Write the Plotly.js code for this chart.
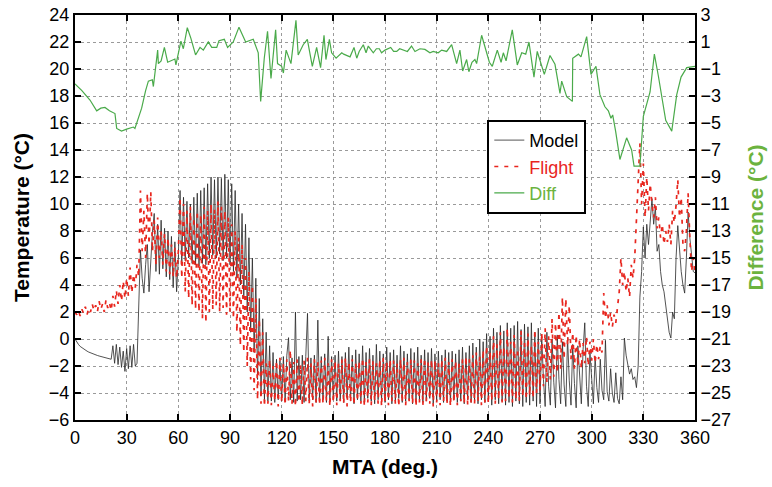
<!DOCTYPE html>
<html>
<head>
<meta charset="utf-8">
<script src="https://cdn.plot.ly/plotly-3.0.1.min.js"></script>
<style>html,body{margin:0;padding:0;background:#fff;}#chart{width:772px;height:487px;}</style>
</head>
<body>
<div id="chart"></div>
<script>
// Model temperature (°C), sampled every 1 deg of MTA from 0 to 360
const modelTemp = [
  0,-0.25,-0.4,-0.55,-0.65,-0.75,-0.83,-0.9,-0.97,-1.03,
  -1.08,-1.13,-1.18,-1.22,-1.26,-1.3,-1.34,-1.38,-1.42,-1.45,
  -1.48,-1.5,-0.5,-1.8,-0.4,-1.9,-0.6,-2.1,-0.9,-2.4,
  -0.7,-2.2,-0.5,-2.1,-0.4,-2.0,-1.8,2.1,6.6,4.5,
  3.4,5.5,7.0,3.5,6.0,8.0,9.3,5.0,8.5,4.8,
  8.8,5.2,8.2,4.6,8.0,4.4,7.6,3.8,7.2,3.5,
  6.0,11.0,5.5,10.5,5.8,10.2,6.0,10.0,5.6,10.5,
  5.5,10.8,5.4,11.0,5.6,11.2,5.5,11.5,6.0,12.0,
  6.2,11.8,6.0,12.0,6.3,11.9,5.8,12.2,6.0,11.8,
  5.5,11.5,5.0,11.0,4.5,10.0,4.0,9.3,3.0,8.5,
  2.0,7.5,0.5,6.0,-1.0,4.5,-3.0,3.0,-4.2,1.5,
  -4.5,0.5,-4.6,-0.5,-4.6,-1.0,-4.7,-1.5,-4.5,-1.6,
  -4.6,-1.3,-4.6,-1.2,0.1,-4.5,-1.4,-4.7,2.0,-4.6,
  -1.3,-4.5,-1.2,-4.7,-1.3,1.9,-4.6,-1.4,-4.5,-1.2,
  -4.7,1.4,-4.6,-1.3,-4.5,-1.1,-4.7,0.2,-4.6,-1.3,
  -4.5,-1.2,-4.6,-0.9,-4.5,-1.3,-4.7,-1.0,-4.4,-0.6,
  -4.6,-1.2,-4.8,-0.8,-4.5,-1.1,-4.6,-0.5,-4.7,-1.0,
  -4.4,-0.7,-4.6,-1.2,-4.8,-0.4,-4.5,-0.9,-4.6,-1.1,
  -4.7,-0.6,-4.5,-1.0,-4.8,-0.8,-4.6,-1.2,-4.4,-0.5,
  -4.7,-0.9,-4.6,-1.1,-4.5,-0.7,-4.8,-1.0,-4.6,-0.6,
  -4.5,-1.2,-4.7,-0.8,-4.6,-1.0,-4.4,-0.7,-4.8,-1.1,
  -4.6,-0.9,-4.5,-1.2,-4.7,-0.8,-4.6,-1.0,-4.8,-0.9,
  -4.5,-1.1,-4.7,-0.8,-4.6,-0.6,-4.8,-1.0,-4.5,-0.5,
  -4.7,-0.3,-4.6,-0.6,-4.8,0.0,-4.5,-0.2,-4.7,0.4,
  -4.6,0.2,-4.9,0.8,-4.5,0.5,-4.8,1.0,-4.6,0.6,
  -4.9,1.2,-4.7,0.8,-5.0,1.0,-4.6,1.3,-4.8,0.7,
  -5.0,1.1,-4.7,0.9,-4.9,1.2,-4.6,0.5,-5.0,0.8,
  -4.8,0.2,-3.0,-5.0,0.5,-3.5,-4.9,0.0,-3.2,-5.1,
  0.3,-3.0,-4.8,-0.2,-3.4,-5.0,0.1,-3.1,-4.9,-0.4,
  -3.3,-5.1,-0.5,-3.0,-4.8,-0.8,1.2,-3.5,-5.0,-1.0,
  -3.2,-4.8,-1.3,-3.6,-4.7,-1.5,-3.8,-4.5,-0.1,-3.9,
  -4.6,-2.2,-4.0,-4.7,-2.5,-4.4,-4.8,-2.8,-4.5,0.07,
  -1.2,-1.8,-2.6,-2.2,-3.0,-2.8,-3.6,-2.0,3.1,5.0,
  8.3,6.0,8.5,7.0,9.0,10.4,8.5,9.8,6.5,7.0,
  5.0,4.0,3.5,2.5,1.5,0.5,0.07,2.0,1.5,6.0,
  8.4,6.5,5.0,4.0,3.4,6.0,9.4,7.5,6.0,5.0,
  4.9
];

// Flight temperature (°C), sampled every 1 deg of MTA from 0 to 360
const flightTemp = [
  2.0,1.8,2.1,1.7,2.2,1.9,2.4,1.8,2.3,2.0,
  2.6,2.1,2.5,2.0,2.8,2.2,2.6,2.0,2.9,2.3,
  2.7,2.1,3.2,2.4,3.6,2.6,4.0,2.8,4.3,3.0,
  4.5,3.2,5.3,3.4,4.8,3.8,5.5,4.6,11.0,6.5,
  9.5,6.0,10.8,7.0,10.9,6.5,8.8,5.5,9.0,6.0,
  8.0,5.5,7.8,5.0,7.5,4.8,7.0,4.6,6.8,4.5,
  6.5,10.5,4.5,10.0,3.5,9.5,3.0,9.8,2.5,9.0,
  2.2,9.5,2.0,9.2,1.5,9.8,1.2,9.5,2.0,10.0,
  2.2,9.6,2.5,10.2,2.0,9.8,2.3,9.5,1.8,9.0,
  2.0,8.5,1.5,8.0,0.5,7.5,-0.5,7.0,-1.0,6.0,
  -2.0,5.0,-3.0,4.0,-3.8,3.0,-4.5,1.5,-4.8,0.5,
  -5.0,-1.8,-4.8,-1.5,-4.9,-2.0,-4.6,-1.6,-5.0,-1.4,
  -4.7,-1.8,-4.9,-1.5,-4.6,-0.8,-4.8,-1.7,-5.0,-1.5,
  -4.7,-1.9,-4.9,-1.6,-4.6,-1.4,-4.8,-1.8,-5.0,-1.5,
  -4.7,-1.7,-4.9,-1.6,-4.8,-1.4,-4.6,-1.8,-5.0,-1.5,
  -4.7,-1.6,-4.9,-1.8,-4.6,-1.5,-4.8,-1.4,-5.0,-1.7,
  -4.7,-1.5,-4.9,-1.8,-4.6,-1.6,-4.8,-1.4,-5.0,-1.7,
  -4.7,-1.5,-4.9,-1.6,-4.6,-1.8,-4.8,-1.5,-5.0,-1.4,
  -4.7,-1.7,-4.9,-1.5,-4.6,-1.6,-4.8,-1.8,-5.0,-1.5,
  -4.7,-1.4,-4.9,-1.7,-4.6,-1.5,-4.8,-1.6,-5.0,-1.8,
  -4.7,-1.5,-4.9,-1.4,-4.6,-1.7,-4.8,-1.5,-5.0,-1.6,
  -4.7,-1.8,-4.9,-1.5,-4.6,-1.4,-4.8,-1.7,-5.0,-1.5,
  -4.7,-1.6,-4.9,-1.8,-4.6,-1.5,-4.8,-1.3,-4.9,-1.5,
  -4.7,-1.2,-4.8,-1.0,-4.6,-1.3,-4.9,-0.8,-4.7,-0.5,
  -4.8,-0.9,-4.6,0.2,-4.8,-0.4,-4.5,0.5,-4.7,-0.6,
  -4.6,0.8,-4.4,-0.2,-4.7,0.3,-4.5,-0.7,-4.6,0.6,
  -4.3,-0.3,-4.5,0.4,-4.2,-0.5,-4.4,0.7,-4.0,-0.2,
  -3.8,0.5,-3.5,0.8,-3.2,0.2,-3.0,1.5,-2.8,1.2,
  -2.5,2.0,-2.2,3.1,-1.5,3.0,-0.5,2.5,-1.5,0.5,
  -2.2,0.3,-2.0,0.0,-2.2,-0.3,-1.8,0.2,-2.0,-0.2,
  -1.6,0.0,-1.8,-0.4,-1.5,-0.5,-1.0,3.4,1.5,2.5,
  1.0,2.0,0.9,1.8,1.2,2.6,3.5,6.0,4.0,5.0,
  3.5,4.5,3.1,5.5,4.5,6.0,9.0,12.0,14.5,10.0,
  13.0,9.0,12.0,9.5,11.5,10.0,9.0,10.5,8.2,9.0,
  7.5,8.5,7.0,8.0,7.2,8.5,7.0,9.5,8.6,9.9,
  11.8,9.0,10.5,7.0,6.5,8.0,10.8,7.5,5.0,6.0,
  5.0
];

// Difference (°C) – right axis
const diffMta = [0,4,8.7,12.6,15,17.4,20,23.2,24.2,27,30,33.9,34.8,36.5,38.7,41,42.6,44.9,45.5,48,48.4,50,51.9,53.8,58,58.6,61.5,62.9,65.2,67.3,70,72.6,74.5,77.4,79.4,82.3,83.6,86.7,88.6,91.9,95.2,99.1,103.5,106.4,107.8,109.9,111.8,113.8,116.5,117.6,120,121,122.6,125.4,128.3,129.6,132.5,134.9,137.8,140.3,142.6,144.6,145.7,147.7,149,151.6,154.9,156,159.7,162,163.6,165,167.4,169,170.3,173.2,175,176.7,178,180,181.5,183.3,185,186.8,188.5,191,193,195.4,197.4,200.3,203.2,206.1,208,210.9,212.9,215.8,218.7,221.6,223.5,225.1,227.4,228.7,230.5,232.2,233.2,236.1,238,240.6,242.3,245.2,247.4,248.7,250.3,253.9,256.8,259.4,261.7,263.6,266.5,268.4,272.5,275.8,278.7,281.6,282.6,285.5,288.8,289,292.3,293.8,297.1,299.6,302.5,304.8,307.7,309.7,311.2,312.2,313.9,316.4,320.3,323.2,324.6,328,330,333.9,336.4,338.7,343,346.5,349.4,351.9,355.2,360];
const diffVal = [-2.1,-2.6,-3.3,-4.1,-3.9,-3.85,-4.1,-4.3,-5.4,-5.6,-5.45,-5.3,-5.4,-4.8,-3.9,-2.6,-1.9,-1.8,-2.3,0.4,-0.6,-0.4,0.6,-0.5,-0.26,-0.7,1.07,0.5,2.06,1.27,0.04,0.6,0.4,1.0,0.6,0.6,1.1,1.2,0.6,1.0,2.1,1.0,1.2,0.2,-3.4,-0.2,1.8,-1.7,1.9,-0.6,-0.8,-1.3,0.4,-0.6,2.6,0.04,0.8,1.2,-0.8,0.6,-0.9,1.5,-0.3,1.2,0.2,-0.2,0.2,0.1,-0.1,0.6,-0.2,0.3,0.8,0.2,0.7,0.2,0.5,0.5,0.2,0.4,0.5,0.6,0.3,0.3,0.5,0.4,0.3,0.7,0.3,0.5,0.45,0.2,0.3,0.2,0.4,0.3,0.8,-0.6,0.4,-1.15,-0.3,-1.2,-0.5,-0.3,-0.6,1.5,0.7,-0.5,-0.8,0.4,-0.5,0.2,-0.4,1.9,-0.7,0.2,0.1,1.0,-1.6,0.3,-1.4,0.0,-0.65,-2.8,-1.9,-3.05,-3.4,-0.2,0.1,-0.1,1.4,-1.4,-0.8,-2.9,-3.8,-4.1,-4.65,-4.4,-5.6,-7.7,-6.1,-7.0,-8.2,-8.2,-4.5,-2.7,0.1,-1.5,-4.8,-5.6,-2.9,-1.6,-0.9,-0.8];

const xTicks = [0,30,60,90,120,150,180,210,240,270,300,330,360];

const STEP = 1;
const mta = modelTemp.map((_, i) => i * STEP);

const GREEN = '#4aaa4a';
const GREEN_TXT = '#6cb33e';
const RED = '#e8261e';
const FONT = '"Liberation Sans", Arial, Helvetica, sans-serif';

const traces = [
  {x: mta, y: modelTemp, type: 'scatter', mode: 'lines', name: 'Model',
   line: {color: 'rgba(40,40,40,0.8)', width: 1}, hoverinfo: 'skip'},
  {x: mta, y: flightTemp, type: 'scatter', mode: 'lines',
   name: '<span style="color:' + RED + '">Flight</span>',
   line: {color: RED, width: 1.7, dash: '4px,6px'}, hoverinfo: 'skip'},
  {x: diffMta, y: diffVal, type: 'scatter', mode: 'lines', yaxis: 'y2',
   name: '<span style="color:' + GREEN_TXT + '">Diff</span>',
   line: {color: GREEN, width: 1.2}, hoverinfo: 'skip'}
];

const layout = {
  width: 772, height: 487,
  margin: {l: 75, r: 77, t: 15, b: 67},
  paper_bgcolor: '#fff', plot_bgcolor: '#fff',
  font: {family: FONT, size: 18, color: '#000'},
  showlegend: true,
  legend: {x: 0.665, y: 0.741, xanchor: 'left', yanchor: 'top',
           bgcolor: '#fff', bordercolor: '#000', borderwidth: 2,
           font: {family: FONT, size: 18, color: '#000'}},
  xaxis: {range: [0, 360], tickmode: 'array', tickvals: xTicks,
          ticks: 'inside', ticklen: 6, tickwidth: 2, tickcolor: '#000',
          showline: true, linewidth: 2, linecolor: '#000', mirror: 'ticks',
          showgrid: true, gridcolor: '#9a9a9a', gridwidth: 1, griddash: 'dot',
          zeroline: false, tickfont: {size: 18, color: '#000'},
          title: {text: '<b>MTA (deg.)</b>', font: {size: 21, color: '#000'}, standoff: 13}},
  yaxis: {range: [-6, 24], tick0: -6, dtick: 2,
          ticks: 'inside', ticklen: 6, tickwidth: 2, tickcolor: '#000',
          showline: true, linewidth: 2, linecolor: '#000',
          showgrid: true, gridcolor: '#9a9a9a', gridwidth: 1, griddash: 'dot',
          zeroline: false, tickfont: {size: 18, color: '#000'},
          title: {text: '<b>Temperature (°C)</b>', font: {size: 21, color: '#000'}, standoff: 14}},
  yaxis2: {range: [-27, 3], tick0: -27, dtick: 2, overlaying: 'y', side: 'right',
           ticks: 'inside', ticklen: 6, tickwidth: 2, tickcolor: '#000',
           showline: true, linewidth: 2, linecolor: '#000',
           showgrid: false, zeroline: false, tickfont: {size: 18, color: '#000'},
           title: {text: '<b>Difference (°C)</b>', font: {size: 21, color: GREEN_TXT}, standoff: 18}}
};

Plotly.newPlot('chart', traces, layout, {displayModeBar: false, staticPlot: true});
</script>
</body>
</html>
